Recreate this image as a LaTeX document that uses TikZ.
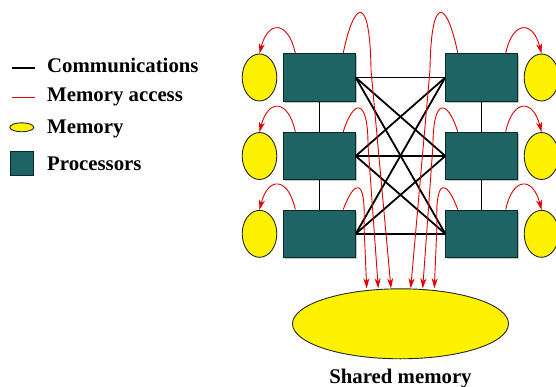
\documentclass[tikz,border=0pt]{standalone}
\usepackage{fontspec}
\setmainfont{Liberation Serif}
\usetikzlibrary{shapes.geometric,shadows,arrows.meta}
\definecolor{proc}{RGB}{31,100,100}
\definecolor{procborder}{RGB}{10,40,40}
\definecolor{memacc}{RGB}{225,0,0}
\begin{document}
\begin{tikzpicture}[x=1pt,y=-1pt,
  lbl/.style={font=\fontsize{20.8}{24}\selectfont\bfseries, inner sep=0pt, anchor=base west},
  procbox/.style={draw=procborder, line width=1pt, fill=proc, minimum width=71.4pt, minimum height=47.4pt, inner sep=0pt,
    drop shadow={shadow xshift=1.5pt, shadow yshift=-1.5pt, fill=gray!45, opacity=1}},
  mem/.style={ellipse, draw=black!85, line width=0.9pt, fill=yellow, inner sep=0pt, minimum width=34.6pt, minimum height=47pt},
  comm/.style={line width=1.8pt, black},
  acc/.style={memacc, line width=0.9pt, -{Stealth[length=10pt,width=6pt,inset=3pt]}},
]
\useasboundingbox (0,0) rectangle (556,387);

% legend
\draw[comm] (12,68) -- (35,68);
\draw[memacc, line width=0.9pt] (12,97) -- (35,97);
\node[ellipse, draw=black!85, line width=0.9pt, fill=yellow, inner sep=0pt, minimum width=24pt, minimum height=9pt] (legmem) at (21.8,127.3) {};
\node[draw=procborder, line width=1pt, fill=proc, minimum width=23.3pt, minimum height=24pt, inner sep=0pt] (legproc) at (22.1,163.5) {};
\node[lbl] (t1) at (47,72.3) {Communications};
\node[lbl] (t2) at (47,101.7) {Memory access};
\node[lbl] (t3) at (47,133.3) {Memory};
\node[lbl] (t4) at (47,171) {Processors};

% processors
\node[procbox] (L1) at (319.5,77.5) {};
\node[procbox] (L2) at (319.5,156) {};
\node[procbox] (L3) at (319.5,233.8) {};
\node[procbox] (R1) at (481.5,77.5) {};
\node[procbox] (R2) at (481.5,156) {};
\node[procbox] (R3) at (481.5,233.8) {};

% local memories
\node[mem] (ml1) at (259.5,77.5) {};
\node[mem] (ml2) at (259.5,156) {};
\node[mem] (ml3) at (259.5,233.8) {};
\node[mem] (mr1) at (541.5,77.5) {};
\node[mem] (mr2) at (541.5,156) {};
\node[mem] (mr3) at (541.5,233.8) {};

% shared memory
\node[ellipse, draw=black!85, line width=0.9pt, fill=yellow, inner sep=0pt, minimum width=216pt, minimum height=70pt] (sm) at (400.5,323.8) {};
\node[lbl, anchor=base] (smlabel) at (400.5,383) {Shared memory};

% communications
\draw[comm] (L1.south) -- (L2.north);
\draw[comm] (L2.south) -- (L3.north);
\draw[comm] (R1.south) -- (R2.north);
\draw[comm] (R2.south) -- (R3.north);
\foreach \r in {1,2,3}{\foreach \s in {1,2,3}{\draw[comm] (L\r.east) -- (R\s.west);}}

% local memory access
\foreach \r in {1,2,3}{
  \draw[acc] ([xshift=12pt]L\r.north west) .. controls +(-7,-33) and +(8.5,-33.5) .. (ml\r.north);
  \draw[acc] ([xshift=-12pt]R\r.north east) .. controls +(7,-33) and +(-8.5,-33.5) .. (mr\r.north);
}

% shared memory access
\draw[acc] ([xshift=-12.5pt]L1.north east) .. controls (354,0) and (370,-8) .. (371,70) -- ([xshift=-9.5pt]sm.north);
\draw[acc] ([xshift=-12.5pt]L2.north east) .. controls (354,98) and (368,98) .. (368,145) -- ([xshift=-22.2pt]sm.north);
\draw[acc] ([xshift=-12.5pt]L3.north east) .. controls (355,178) and (366,178) .. (364,225) -- ([xshift=-33.8pt]sm.north);
\draw[acc] ([xshift=12.5pt]R1.north west) .. controls (447,0) and (431,-8) .. (430,70) -- ([xshift=10.2pt]sm.north);
\draw[acc] ([xshift=12.5pt]R2.north west) .. controls (447,98) and (433,98) .. (433,145) -- ([xshift=22.2pt]sm.north);
\draw[acc] ([xshift=12.5pt]R3.north west) .. controls (446,178) and (435,178) .. (437,225) -- ([xshift=33.8pt]sm.north);
\end{tikzpicture}
\end{document}
